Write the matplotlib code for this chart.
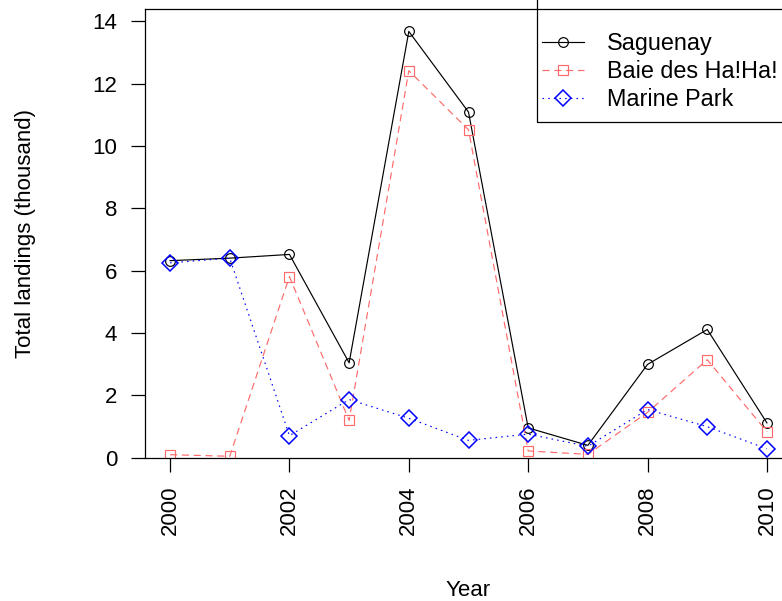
import matplotlib
matplotlib.use("Agg")
import matplotlib.pyplot as plt
from matplotlib.patches import Rectangle

plt.rcParams['font.family'] = ['Liberation Sans', 'DejaVu Sans']

years = [2000, 2001, 2002, 2003, 2004, 2005, 2006, 2007, 2008, 2009, 2010]
saguenay = [6.32, 6.40, 6.52, 3.04, 13.68, 11.09, 0.95, 0.39, 2.99, 4.11, 1.11]
baie = [0.09, 0.04, 5.81, 1.19, 12.42, 10.52, 0.21, 0.10, 1.45, 3.14, 0.83]
marine = [6.25, 6.40, 0.70, 1.86, 1.26, 0.55, 0.75, 0.36, 1.54, 0.99, 0.28]
series_names = ["Saguenay", "Baie des Ha!Ha!", "Marine Park"]

fig = plt.figure(figsize=(7.82, 6.01), dpi=100)
# axes box runs a little past the right edge of the picture, as in the reference
ax = fig.add_axes([145 / 782, (601 - 457.5) / 601, 647 / 782, 448.2 / 601])

lw = 0.85
ax.plot(years, saguenay, color='black', lw=lw, marker='o', ms=7,
        mfc='none', mec='black', mew=lw, label=series_names[0])
ax.plot(years, baie, color='#ff6b6b', lw=lw, marker='s', ms=7,
        mfc='none', mec='#ff6b6b', mew=lw, dashes=(6, 4), label=series_names[1])
ax.plot(years, marine, color='blue', lw=lw, marker='D', ms=8,
        mfc='none', mec='blue', mew=lw * 1.3, dashes=(1.3, 3.5), label=series_names[2])

ax.set_xlim(1999.58, 2010.42)
ax.set_ylim(0, 14.39)
ax.set_xticks(range(2000, 2011, 2))
ax.set_yticks(range(0, 15, 2))

for s in ax.spines.values():
    s.set_linewidth(0.9)
ax.tick_params(axis='both', direction='out', length=10, width=0.9,
               labelsize=16, pad=10)
ax.tick_params(axis='x', labelrotation=90)

ax.set_xlabel("Year", fontsize=16)
ax.set_ylabel("Total landings (thousand)", fontsize=16)
ax.xaxis.label.set_va('center')
ax.xaxis.set_label_coords(0.5, (457.5 - 590) / 448.2)
ax.yaxis.label.set_va('center')
ax.yaxis.set_label_coords((25 - 145) / 647, 0.5)

# legend box
x0 = (537 - 145) / 647
y0 = (457.5 - 121.7) / 448.2
ax.add_patch(Rectangle((x0, y0), 1.2, 1.2, transform=ax.transAxes,
                       fill=False, edgecolor='black', lw=0.9, clip_on=False, zorder=5))
leg = ax.legend(loc='upper left', bbox_to_anchor=((545 - 145) / 647 - 0.005, (457.5 - 32) / 448.2),
                frameon=False, fontsize=16.8, handlelength=1.8, handletextpad=1.0,
                labelspacing=0.22, borderpad=0, borderaxespad=0)

fig.savefig("out.png", dpi=100)
